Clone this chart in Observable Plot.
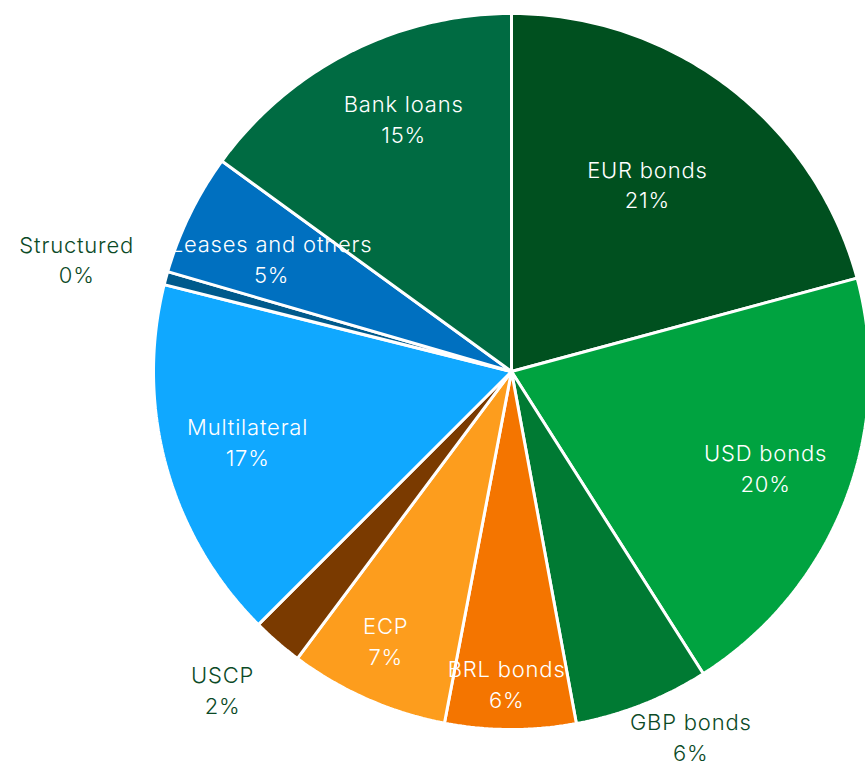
<!DOCTYPE html>
<html><head><meta charset="utf-8">
<script src="https://cdn.jsdelivr.net/npm/d3@7"></script>
<script src="https://cdn.jsdelivr.net/npm/@observablehq/plot@0.6"></script>
<style>body{margin:0;background:#fff;overflow:hidden} svg text{letter-spacing:0.8px}</style>
</head><body><div id="chart"></div>
<script>
const categories = ["EUR bonds","USD bonds","GBP bonds","BRL bonds","ECP","USCP","Multilateral","Structured","Leases and others","Bank loans"];
const values = [20.8, 20.2, 6.1, 5.9, 7.2, 2.3, 16.4, 0.6, 5.5, 15.0];
const percentLabels = ["21%","20%","6%","6%","7%","2%","17%","0%","5%","15%"];
const colors = ["#00501f","#00a340","#007a33","#f47500","#fd9d1d","#7a3a00","#10a8ff","#005a8c","#0070c0","#006b42"];
// layout: label angle (deg clockwise from top) and radial distance (fraction of radius)
const labelAngle = [35.8, 110.6, 153.8, 180.9, 205.1, 222.3, 255.3, 284.6, 295.4, 337.0];
const labelRadius = [0.649, 0.758, 1.134, 0.870, 0.828, 1.199, 0.762, 1.255, 0.742, 0.771];
const labelInside = [true,true,false,true,true,false,true,false,true,true];

const W = 865, H = 763, cx = 511, cy = 371, R = 358;
const arcs = d3.pie().sort(null).value(d => d)(values);
const polys = [];
arcs.forEach((a, i) => {
  const n = Math.max(2, Math.ceil((a.endAngle - a.startAngle) * 80));
  polys.push({k: i, x: cx, y: cy, cat: categories[i]});
  for (let j = 0; j <= n; j++) {
    const t = a.startAngle + (a.endAngle - a.startAngle) * j / n;
    polys.push({k: i, x: cx + R * Math.sin(t), y: cy - R * Math.cos(t), cat: categories[i]});
  }
  polys.push({k: i, x: cx, y: cy, cat: categories[i]});
});
const labels = categories.map((c, i) => {
  const m = labelAngle[i] * Math.PI / 180, r = R * labelRadius[i];
  return {x: cx + r * Math.sin(m), y: cy - r * Math.cos(m), text: c + "\n" + percentLabels[i], inside: labelInside[i]};
});
const chart = Plot.plot({
  width: W, height: H, margin: 0,
  x: {domain: [0, W], axis: null},
  y: {domain: [0, H], reverse: true, axis: null},
  color: {domain: categories, range: colors},
  style: {fontFamily: "Inter, 'Open Sans', sans-serif"},
  marks: [
    Plot.line(polys, {x: "x", y: "y", z: "k", fill: "cat", stroke: "white", strokeWidth: 3, strokeLinejoin: "miter", curve: "linear"}),
    Plot.text(labels, {x: "x", y: "y", text: "text", fill: d => d.inside ? "white" : "#0b4a26", fontSize: 22, lineHeight: 1.4, fontWeight: 300})
  ]
});
document.getElementById("chart").appendChild(chart);
</script></body></html>
